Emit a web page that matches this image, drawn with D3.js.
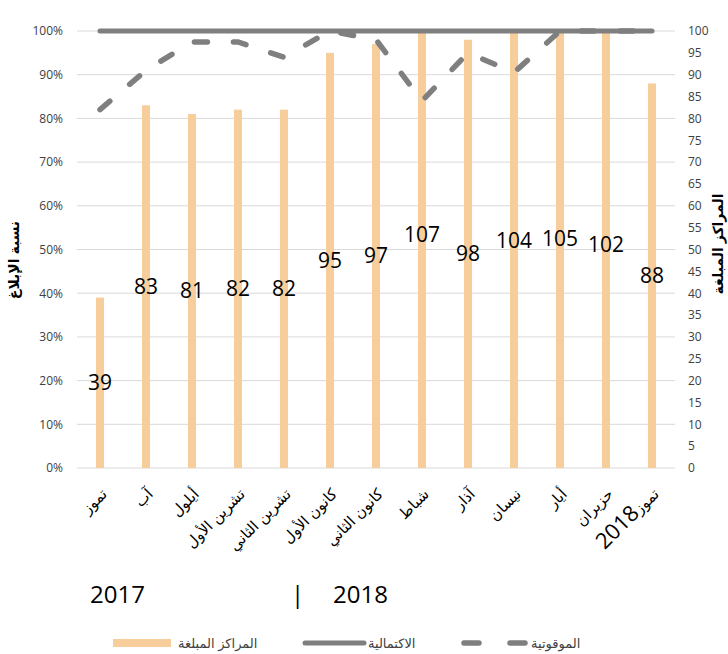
<!DOCTYPE html>
<html>
<head>
<meta charset="utf-8">
<script src="https://cdn.jsdelivr.net/npm/d3@7"></script>
<style>
  body { margin: 0; background: #fff; }
  svg { display: block; font-family: "Liberation Sans", "DejaVu Sans", sans-serif; }
</style>
</head>
<body>
<div id="chart"></div>
<script>
const months = ["تموز", "آب", "أيلول", "تشرين الأول", "تشرين الثاني", "كانون الأول", "كانون الثاني", "شباط", "آذار", "نيسان", "أيار", "حزيران", "تموز2018"];
const centres = [39, 83, 81, 82, 82, 95, 97, 107, 98, 104, 105, 102, 88];
const completeness = [1, 1, 1, 1, 1, 1, 1, 1, 1, 1, 1, 1, 1];
const timeliness = [0.82, 0.91, 0.975, 0.975, 0.94, 1.0, 0.98, 0.84, 0.95, 0.905, 1.0, 1.0, 1.0];
const leftTicks = [0, 0.1, 0.2, 0.3, 0.4, 0.5, 0.6, 0.7, 0.8, 0.9, 1];
const rightTicks = d3.range(0, 101, 5);
const legendItems = ["المراكز المبلغة", "الاكتمالية", "الموقوتية"];

const width = 728;
const height = 654;
const plotLeft = 77, plotRight = 675, plotTop = 31, plotBottom = 468;

const x = d3.scaleBand().domain(months).range([plotLeft, plotRight]);
const cx = (d) => x(d) + x.bandwidth() / 2;
const yL = d3.scaleLinear().domain([0, 1]).range([plotBottom, plotTop]);
const yR = d3.scaleLinear().domain([0, 100]).range([plotBottom, plotTop]).clamp(true);
const yRfree = yR.copy().clamp(false);

const svg = d3.select("#chart").append("svg")
    .attr("width", width)
    .attr("height", height)
    .attr("viewBox", [0, 0, width, height]);

// gridlines
svg.append("g")
    .selectAll("line")
    .data(leftTicks)
    .join("line")
    .attr("x1", plotLeft).attr("x2", plotRight)
    .attr("y1", (d) => yL(d)).attr("y2", (d) => yL(d))
    .attr("stroke", "#d9d9d9")
    .attr("stroke-width", 1);

// left axis
svg.append("g")
    .attr("transform", `translate(${plotLeft},0)`)
    .call(d3.axisLeft(yL).tickValues(leftTicks).tickFormat(d3.format(".0%")).tickSize(0).tickPadding(14))
    .call((g) => g.select(".domain").remove())
    .selectAll("text")
    .attr("font-size", 12)
    .attr("font-family", "Open Sans, sans-serif")
    .attr("fill", "#404040");

// right axis
svg.append("g")
    .attr("transform", `translate(${plotRight},0)`)
    .call(d3.axisRight(yR).tickValues(rightTicks).tickSize(0).tickPadding(13))
    .call((g) => g.select(".domain").remove())
    .selectAll("text")
    .attr("font-size", 12)
    .attr("font-family", "Open Sans, sans-serif")
    .attr("fill", "#404040");

// bars
svg.append("g")
    .selectAll("rect")
    .data(centres)
    .join("rect")
    .attr("x", (d, i) => cx(months[i]) - 4)
    .attr("width", 8)
    .attr("y", (d) => yR(d))
    .attr("height", (d) => plotBottom - yR(d))
    .attr("fill", "#f7cd9b");

// completeness + timeliness lines
const line = d3.line()
    .x((d, i) => cx(months[i]))
    .y((d) => yL(d));

svg.append("path")
    .datum(completeness)
    .attr("fill", "none")
    .attr("stroke", "#7f7f7f")
    .attr("stroke-width", 5)
    .attr("stroke-linecap", "round")
    .attr("d", line);

svg.append("path")
    .datum(timeliness)
    .attr("fill", "none")
    .attr("stroke", "#7f7f7f")
    .attr("stroke-width", 5.5)
    .attr("stroke-linecap", "round")
    .attr("stroke-dasharray", "13,26")
    .attr("d", line);

// value labels
svg.append("g")
    .selectAll("text")
    .data(centres)
    .join("text")
    .attr("x", (d, i) => cx(months[i]))
    .attr("y", (d) => yRfree(d / 2))
    .attr("dy", "0.35em")
    .attr("text-anchor", "middle")
    .attr("font-size", 21)
    .attr("font-family", "Open Sans, sans-serif")
    .attr("fill", "#000")
    .text((d) => d);

// x labels
const xl = svg.append("g")
    .selectAll("text")
    .data(months)
    .join("text")
    .attr("transform", (d) => `translate(${cx(d) + 8},${plotBottom + 27}) rotate(-45)`)
    .attr("text-anchor", "end")
    .attr("font-size", 15)
    .attr("fill", "#000");
xl.each(function (d) {
    const t = d3.select(this);
    const m = d.match(/^(\D+)(\d+)$/);
    if (m) {
        t.append("tspan").text(m[1]);
        t.append("tspan").attr("font-size", 22).attr("font-family", "Open Sans, sans-serif").text(m[2]);
    } else {
        t.text(d);
    }
});

// axis titles
svg.append("text")
    .attr("transform", `translate(14,260) rotate(-90)`)
    .attr("text-anchor", "middle")
    .attr("dy", "0.35em")
    .attr("font-size", 14)
    .attr("font-weight", "bold")
    .text("نسبة الإبلاغ");

svg.append("text")
    .attr("transform", `translate(718,244) rotate(-90)`)
    .attr("text-anchor", "middle")
    .attr("dy", "0.35em")
    .attr("font-size", 14)
    .attr("font-weight", "bold")
    .text("المراكز المبلغة");

// year annotation
const yearText = svg.append("g")
    .attr("font-size", 24)
    .attr("font-family", "Open Sans, sans-serif")
    .attr("fill", "#000");
yearText.append("text").attr("x", 90).attr("y", 603).text("2017");
yearText.append("text").attr("x", 291).attr("y", 603).text("|");
yearText.append("text").attr("x", 333).attr("y", 603).text("2018");

// legend
const lg = svg.append("g").attr("font-size", 13).attr("fill", "#404040");
lg.append("rect").attr("x", 113).attr("y", 639).attr("width", 58).attr("height", 8).attr("fill", "#f7cd9b");
lg.append("text").attr("x", 178).attr("y", 643).attr("dy", "0.35em").text(legendItems[0]);
lg.append("line").attr("x1", 305).attr("x2", 364).attr("y1", 643).attr("y2", 643)
    .attr("stroke", "#7f7f7f").attr("stroke-width", 5).attr("stroke-linecap", "round");
lg.append("text").attr("x", 368).attr("y", 643).attr("dy", "0.35em").text(legendItems[1]);
lg.append("line").attr("x1", 464).attr("x2", 525).attr("y1", 643).attr("y2", 643)
    .attr("stroke", "#7f7f7f").attr("stroke-width", 5.5).attr("stroke-linecap", "round")
    .attr("stroke-dasharray", "15,31");
lg.append("text").attr("x", 531).attr("y", 643).attr("dy", "0.35em").text(legendItems[2]);
</script>
</body>
</html>
